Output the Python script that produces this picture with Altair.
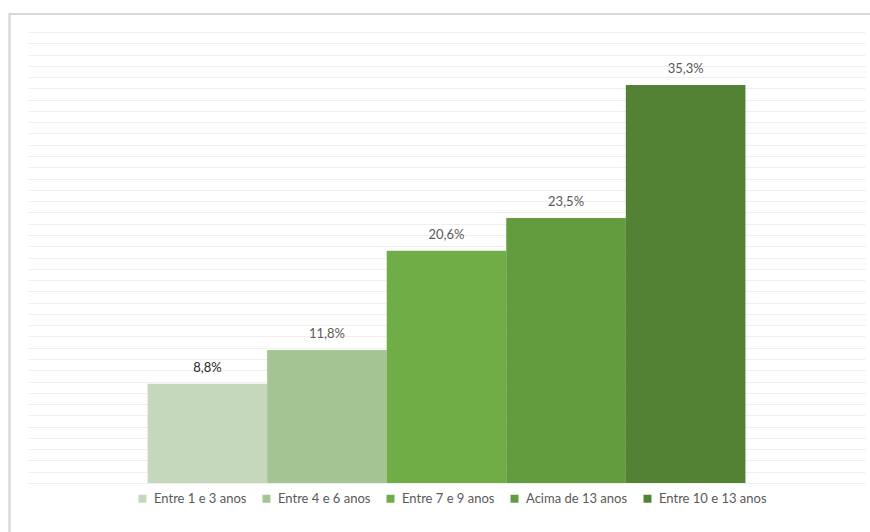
import altair as alt
import pandas as pd

categories = ["Entre 1 e 3 anos", "Entre 4 e 6 anos", "Entre 7 e 9 anos",
              "Acima de 13 anos", "Entre 10 e 13 anos"]
values = [8.8, 11.8, 20.6, 23.5, 35.3]
colors = ["#c5d8bb", "#a3c594", "#70ad47", "#629c3f", "#548235"]

labels = [f"{v:.1f}".replace(".", ",") + "%" for v in values]
df = pd.DataFrame({"cat": categories, "val": values, "label": labels})

FONT = "Lato"

xenc = alt.X("cat:N", sort=categories, axis=None,
             scale=alt.Scale(paddingInner=0, paddingOuter=1))
yscale = alt.Scale(domain=[0, 40], nice=False)
yaxis = alt.Axis(values=list(range(0, 41)), domain=False, labels=False,
                 ticks=False, title=None, gridColor="#efefef", gridWidth=1)

border = alt.Chart(df).mark_rect(fill=None, stroke="#d9d9d9", strokeWidth=1.5, clip=False).encode(
    x=alt.value(-18.5), x2=alt.value(900), y=alt.value(-18), y2=alt.value(700)
)

bars = alt.Chart(df).mark_bar(size=119.6).encode(
    x=xenc,
    y=alt.Y("val:Q", scale=yscale, axis=yaxis),
    color=alt.Color("cat:N", sort=categories,
                    scale=alt.Scale(domain=categories, range=colors),
                    legend=alt.Legend(orient="none", legendX=108, legendY=460,
                                      direction="horizontal", title=None,
                                      symbolType="square", symbolSize=64, symbolStrokeWidth=0,
                                      labelFont=FONT, labelFontSize=13, labelColor="#595959",
                                      labelOffset=5, columnPadding=13,
                                      labelLimit=300)),
)

text = alt.Chart(df).mark_text(baseline="bottom", dy=-9, font=FONT, fontSize=13).encode(
    x=xenc,
    y=alt.Y("val:Q", scale=yscale, axis=yaxis),
    text="label:N",
    color=alt.condition(alt.datum.cat == "Entre 1 e 3 anos", alt.value("#262626"), alt.value("#595959")),
)

chart = alt.layer(border, bars, text).properties(
    width=837, height=451,
    background="white",
    autosize=alt.AutoSizeParams(type="none"),
    padding={"left": 28, "top": 32, "right": 5, "bottom": 49},
).configure_view(stroke=None)

chart.save("out.html", embed_options={"renderer": "svg", "actions": False})
